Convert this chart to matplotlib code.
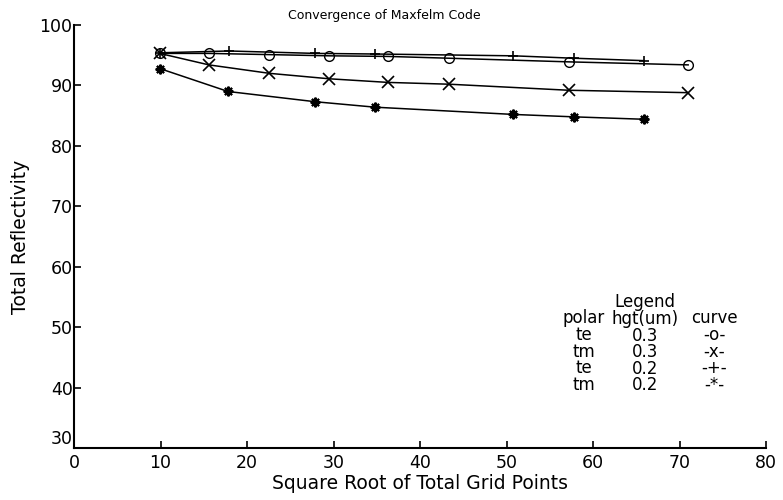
import matplotlib
import numpy as np
import matplotlib.pyplot as plt

matplotlib.use("Agg")

plt.rcParams['font.family'] = ['DejaVu Sans']

# data
x_te03 = [9.9, 15.6, 22.6, 29.5, 36.3, 43.4, 57.2, 71.0]
y_te03 = [95.3, 95.3, 95.1, 94.9, 94.8, 94.5, 93.9, 93.4]

x_tm03 = [9.9, 15.6, 22.6, 29.5, 36.3, 43.4, 57.2, 71.0]
y_tm03 = [95.3, 93.4, 92.0, 91.1, 90.5, 90.2, 89.2, 88.8]

x_te02 = [9.9, 17.9, 27.9, 34.8, 50.8, 57.8, 65.9]
y_te02 = [95.4, 95.7, 95.3, 95.2, 94.9, 94.5, 94.1]

x_tm02 = [9.9, 17.8, 27.9, 34.8, 50.8, 57.8, 65.9]
y_tm02 = [92.8, 89.0, 87.3, 86.4, 85.2, 84.8, 84.4]

# legend table columns (header first)
leg_polar = ["polar", "te", "tm", "te", "tm"]
leg_hgt = ["Legend", "hgt(um)", "0.3", "0.3", "0.2", "0.2"]
leg_curve = ["curve", "-o-", "-x-", "-+-", "-*-"]

fig = plt.figure(figsize=(7.83, 5.0), dpi=100)
ax = fig.add_axes([74 / 783, 1 - 448 / 500, (766 - 74) / 783, (448 - 25) / 500])

lw = 1.1
ax.plot(x_te03, y_te03, color='black', lw=lw, marker='o', ms=7, mfc='none', mew=1.0)
ax.plot(x_tm03, y_tm03, color='black', lw=lw, marker='x', ms=8, mew=1.2)
ax.plot(x_te02, y_te02, color='black', lw=lw, marker='+', ms=7, mew=1.2)
ax.plot(x_tm02, y_tm02, color='black', lw=lw, marker=(8, 2, 0), ms=7, mew=1.5)

ax.set_xlim(0, 80)
ax.set_ylim(30, 100)
ax.set_xticks(np.arange(0, 81, 10))
ax.set_yticks(np.arange(30, 101, 10))
ax.spines['top'].set_visible(False)
ax.spines['right'].set_visible(False)
ax.spines['left'].set_linewidth(1.5)
ax.spines['bottom'].set_linewidth(1.5)
ax.tick_params(direction='in', length=5, width=1.2, labelsize=12.5, colors='black')
ax.tick_params(axis='x', pad=4)
ax.tick_params(axis='y', pad=1)
# lift the corner label "30" a bit so it sits above the "0"
ax.get_yticklabels()[0].set_va('bottom')

fig.text(384 / 783, 1 - 15 / 500, "Convergence of Maxfelm Code", fontsize=9,
         ha='center', va='center')
ax.set_xlabel("Square Root of Total Grid Points", fontsize=13.5)
ax.xaxis.set_label_coords(0.5, -0.062)
ax.set_ylabel("Total Reflectivity", fontsize=13.5)
ax.yaxis.set_label_coords(-0.064, 0.5)

# hand-made legend table, one text block per column
fs = 12
ls = 0.90
ax.text(58.9, 45.94, "\n".join(leg_polar), fontsize=fs, ha='center', va='center',
        multialignment='center', linespacing=ls)
ax.text(66.0, 47.23, "\n".join(leg_hgt), fontsize=fs, ha='center', va='center',
        multialignment='center', linespacing=ls)
ax.text(74.0, 45.94, "\n".join(leg_curve), fontsize=fs, ha='center', va='center',
        multialignment='center', linespacing=ls)

plt.savefig("out.png", dpi=100)
plt.close()
